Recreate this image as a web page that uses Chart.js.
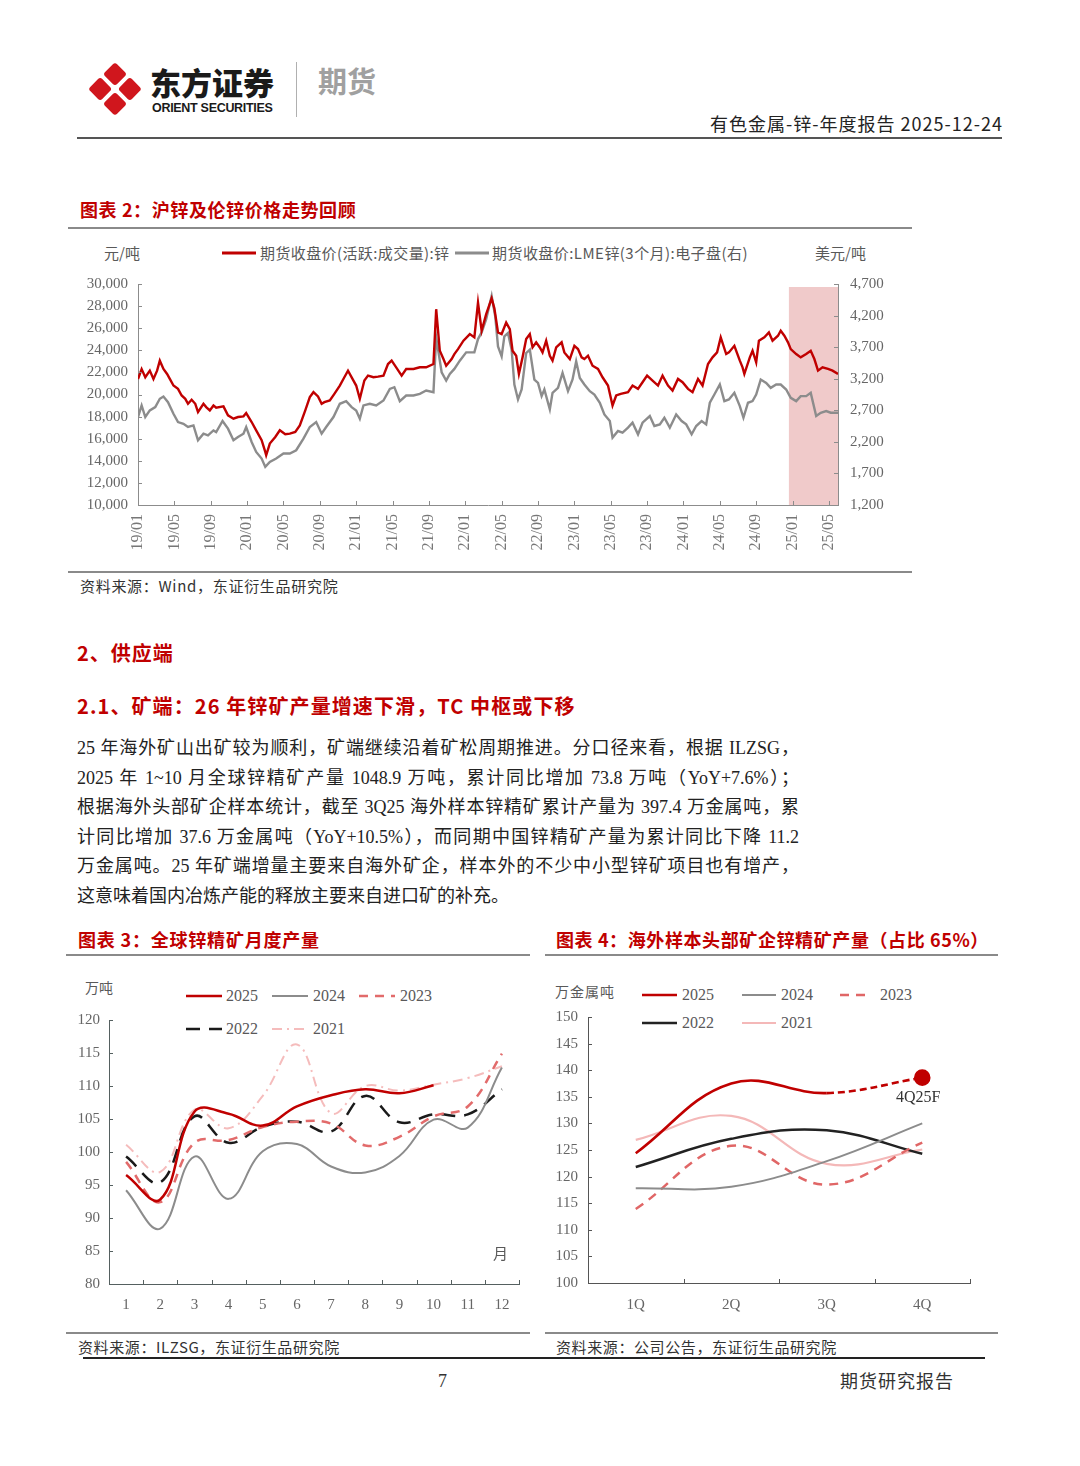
<!DOCTYPE html>
<html lang="zh-CN">
<head>
<meta charset="utf-8">
<title>有色金属-锌-年度报告</title>
<script src="https://cdn.jsdelivr.net/npm/chart.js@4.4.1/dist/chart.umd.min.js"></script>
<style>
  html, body { margin: 0; padding: 0; background: #fff; }
  #page { position: relative; width: 1080px; height: 1466px; overflow: hidden;
          font-family: "Liberation Serif", "Noto Sans CJK SC", serif; color: #222; }
  .t { position: absolute; white-space: nowrap; line-height: 1; }
  .hr { position: absolute; height: 0; border-top: 2px solid #8a8a8a; }
  .red { color: #c00000; }
  .lgt { position: absolute; white-space: nowrap; line-height: 1; color: #595959; }
  .ls { position: absolute; }
  canvas { position: absolute; }
  .para { position: absolute; left: 77px; top: 734px; width: 722px; font-size: 18px; }
  .para div { height: 29.6px; line-height: 29.6px; text-align: justify; text-align-last: justify; white-space: nowrap; }
  .para div.last { text-align-last: left; }
</style>
</head>
<body>
<div id="page">

  <!-- 页眉 -->
  <svg style="position:absolute;left:88px;top:61px" width="54" height="56" viewBox="0 0 54 56">
    <g transform="translate(27,28) rotate(45)" fill="#d0161d">
      <rect x="-19" y="-19" width="17" height="17" rx="3"/>
      <rect x="2" y="-19" width="17" height="17" rx="3"/>
      <rect x="-19" y="2" width="17" height="17" rx="3"/>
      <rect x="2" y="2" width="17" height="17" rx="3"/>
    </g>
  </svg>
  <div class="t" style="left:150px;top:66px;font-family:'Noto Sans CJK SC';font-weight:900;font-size:31px;color:#1a1a1a;">东方证券</div>
  <div class="t" style="left:152px;top:102px;font-family:'Liberation Sans';font-weight:bold;font-size:12.5px;color:#1a1a1a;letter-spacing:-0.3px;">ORIENT SECURITIES</div>
  <div style="position:absolute;left:296px;top:62px;width:1px;height:55px;background:#b0b0b0;"></div>
  <div class="t" style="left:318px;top:66px;font-family:'Noto Sans CJK SC';font-weight:bold;font-size:29px;color:#a0a0a0;">期货</div>
  <div class="t" style="right:77px;top:114px;font-family:'Noto Sans CJK SC';font-size:18px;color:#222;letter-spacing:1px;">有色金属-锌-年度报告 2025-12-24</div>
  <div class="hr" style="left:77px;top:137px;width:925px;border-top-color:#555;"></div>

  <!-- 图表 2 -->
  <div class="t red" style="left:80px;top:200px;font-family:'Noto Sans CJK SC';font-weight:bold;font-size:18px;letter-spacing:0.6px;">图表 2：沪锌及伦锌价格走势回顾</div>
  <div class="hr" style="left:68px;top:227px;width:844px;"></div>
  <div class="lgt" style="left:104px;top:245px;font-family:'Noto Sans CJK SC';font-size:15px;">元/吨</div>
  <svg class="ls" style="left:222px;top:248px" width="34" height="10"><line x1="0" y1="5" x2="34" y2="5" stroke="#c00000" stroke-width="3"/></svg>
  <div class="lgt" style="left:260px;top:245px;font-family:'Noto Sans CJK SC';font-size:15px;letter-spacing:0.4px;">期货收盘价(活跃:成交量):锌</div>
  <svg class="ls" style="left:455px;top:248px" width="34" height="10"><line x1="0" y1="5" x2="34" y2="5" stroke="#8c8c8c" stroke-width="3"/></svg>
  <div class="lgt" style="left:492px;top:245px;font-family:'Noto Sans CJK SC';font-size:15px;letter-spacing:0.45px;">期货收盘价:LME锌(3个月):电子盘(右)</div>
  <div class="lgt" style="left:815px;top:245px;font-family:'Noto Sans CJK SC';font-size:15px;">美元/吨</div>
  <canvas id="chartPrice" width="844" height="307" style="left:68px;top:263px;"></canvas>
  <div class="hr" style="left:68px;top:571px;width:844px;"></div>
  <div class="t" style="left:80px;top:578px;font-family:'Noto Sans CJK SC';font-size:15px;color:#333;letter-spacing:0.7px;">资料来源：Wind，东证衍生品研究院</div>

  <!-- 正文 -->
  <div class="t red" style="left:77px;top:643px;font-family:'Noto Sans CJK SC';font-weight:bold;font-size:20px;letter-spacing:1px;">2、供应端</div>
  <div class="t red" style="left:77px;top:696px;font-family:'Noto Sans CJK SC';font-weight:bold;font-size:20px;letter-spacing:1.1px;">2.1、矿端：26 年锌矿产量增速下滑，TC 中枢或下移</div>
  <div class="para">
    <div>25 年海外矿山出矿较为顺利，矿端继续沿着矿松周期推进。分口径来看，根据 ILZSG，</div>
    <div>2025 年 1~10 月全球锌精矿产量 1048.9 万吨，累计同比增加 73.8 万吨（YoY+7.6%）；</div>
    <div>根据海外头部矿企样本统计，截至 3Q25 海外样本锌精矿累计产量为 397.4 万金属吨，累</div>
    <div>计同比增加 37.6 万金属吨（YoY+10.5%），而同期中国锌精矿产量为累计同比下降 11.2</div>
    <div>万金属吨。25 年矿端增量主要来自海外矿企，样本外的不少中小型锌矿项目也有增产，</div>
    <div class="last">这意味着国内冶炼产能的释放主要来自进口矿的补充。</div>
  </div>

  <!-- 图表 3 -->
  <div class="t red" style="left:78px;top:930px;font-family:'Noto Sans CJK SC';font-weight:bold;font-size:18px;letter-spacing:0.8px;">图表 3：全球锌精矿月度产量</div>
  <div class="hr" style="left:66px;top:954px;width:464px;"></div>
  <div class="lgt" style="left:85px;top:980px;font-family:'Noto Sans CJK SC';font-size:14px;">万吨</div>
  <svg class="ls" style="left:186px;top:991px" width="36" height="10"><line x1="0" y1="5" x2="36" y2="5" stroke="#c00000" stroke-width="2.5"/></svg>
  <div class="lgt" style="left:226px;top:988px;font-size:16px;">2025</div>
  <svg class="ls" style="left:272px;top:991px" width="36" height="10"><line x1="0" y1="5" x2="36" y2="5" stroke="#8c8c8c" stroke-width="2"/></svg>
  <div class="lgt" style="left:313px;top:988px;font-size:16px;">2024</div>
  <svg class="ls" style="left:359px;top:991px" width="36" height="10"><line x1="0" y1="5" x2="36" y2="5" stroke="#e26b6b" stroke-width="2.5" stroke-dasharray="9 7"/></svg>
  <div class="lgt" style="left:400px;top:988px;font-size:16px;">2023</div>
  <svg class="ls" style="left:186px;top:1024px" width="36" height="10"><line x1="0" y1="5" x2="36" y2="5" stroke="#1a1a1a" stroke-width="2.5" stroke-dasharray="14 9"/></svg>
  <div class="lgt" style="left:226px;top:1021px;font-size:16px;">2022</div>
  <svg class="ls" style="left:272px;top:1024px" width="36" height="10"><line x1="0" y1="5" x2="36" y2="5" stroke="#f5bcbc" stroke-width="2" stroke-dasharray="10 5 2 5"/></svg>
  <div class="lgt" style="left:313px;top:1021px;font-size:16px;">2021</div>
  <canvas id="chartMonthly" width="464" height="340" style="left:66px;top:975px;"></canvas>
  <div class="lgt" style="left:493px;top:1245px;font-family:'Noto Sans CJK SC';font-size:15px;">月</div>
  <div class="hr" style="left:66px;top:1332px;width:464px;"></div>
  <div class="t" style="left:78px;top:1339px;font-family:'Noto Sans CJK SC';font-size:15px;color:#333;letter-spacing:0.6px;">资料来源：ILZSG，东证衍生品研究院</div>

  <!-- 图表 4 -->
  <div class="t red" style="left:556px;top:930px;font-family:'Noto Sans CJK SC';font-weight:bold;font-size:18px;letter-spacing:0.6px;">图表 4：海外样本头部矿企锌精矿产量（占比 65%）</div>
  <div class="hr" style="left:545px;top:954px;width:453px;"></div>
  <div class="lgt" style="left:555px;top:984px;font-family:'Noto Sans CJK SC';font-size:14px;letter-spacing:1px;">万金属吨</div>
  <svg class="ls" style="left:642px;top:990px" width="35" height="10"><line x1="0" y1="5" x2="35" y2="5" stroke="#c00000" stroke-width="2.5"/></svg>
  <div class="lgt" style="left:682px;top:987px;font-size:16px;">2025</div>
  <svg class="ls" style="left:742px;top:990px" width="34" height="10"><line x1="0" y1="5" x2="34" y2="5" stroke="#8c8c8c" stroke-width="2"/></svg>
  <div class="lgt" style="left:781px;top:987px;font-size:16px;">2024</div>
  <svg class="ls" style="left:840px;top:990px" width="29" height="10"><line x1="0" y1="5" x2="29" y2="5" stroke="#e06666" stroke-width="2.5" stroke-dasharray="9 7"/></svg>
  <div class="lgt" style="left:880px;top:987px;font-size:16px;">2023</div>
  <svg class="ls" style="left:642px;top:1018px" width="35" height="10"><line x1="0" y1="5" x2="35" y2="5" stroke="#222" stroke-width="2.5"/></svg>
  <div class="lgt" style="left:682px;top:1015px;font-size:16px;">2022</div>
  <svg class="ls" style="left:742px;top:1018px" width="34" height="10"><line x1="0" y1="5" x2="34" y2="5" stroke="#f4b8b8" stroke-width="2.2"/></svg>
  <div class="lgt" style="left:781px;top:1015px;font-size:16px;">2021</div>
  <canvas id="chartMines" width="453" height="340" style="left:545px;top:975px;"></canvas>
  <div class="hr" style="left:545px;top:1332px;width:453px;"></div>
  <div class="t" style="left:556px;top:1339px;font-family:'Noto Sans CJK SC';font-size:15px;color:#333;letter-spacing:0.6px;">资料来源：公司公告，东证衍生品研究院</div>

  <!-- 页脚 -->
  <div class="hr" style="left:83px;top:1357px;width:902px;border-top-color:#222;"></div>
  <div class="t" style="left:438px;top:1372px;font-size:18px;color:#333;">7</div>
  <div class="t" style="left:840px;top:1371px;font-family:'Noto Sans CJK SC';font-size:18px;color:#333;letter-spacing:1px;">期货研究报告</div>
</div>

<script>
// ===============================
// 数据：图表 2（x 为自 2019/01 起的月份数）
// ===============================
const xTickLabels = ['19/01', '19/05', '19/09', '20/01', '20/05', '20/09', '21/01', '21/05', '21/09', '22/01',
  '22/05', '22/09', '23/01', '23/05', '23/09', '24/01', '24/05', '24/09', '25/01', '25/05'];

const shfeMonths = [0.0, 0.4, 0.8, 1.3, 1.7, 2.1, 2.4, 2.8, 3.2, 3.5, 3.9, 4.4, 4.8, 5.2, 5.5, 5.9, 6.3, 6.6, 7.2, 7.5,
  7.9, 8.3, 8.6, 9.4, 9.9, 10.5, 11.0, 11.6, 11.9, 12.5, 13.0, 13.6, 14.0, 14.1, 14.5, 15.1, 15.6, 16.2, 16.7, 17.3,
  17.8, 18.4, 18.9, 19.3, 19.8, 20.2, 20.5, 21.1, 21.6, 22.2, 22.7, 23.1, 23.7, 24.0, 24.4, 24.9, 25.3, 25.9, 26.4, 27.0,
  27.5, 27.9, 28.4, 29.0, 29.5, 30.3, 31.0, 31.7, 32.5, 32.8, 33.2, 33.6, 33.9, 34.5, 34.8, 35.2, 35.8, 36.5, 37.0, 37.4,
  37.8, 38.3, 38.9, 39.2, 39.6, 40.0, 40.5, 40.9, 41.2, 41.6, 41.9, 42.3, 42.7, 43.1, 43.4, 43.8, 44.2, 44.5, 44.9, 45.3,
  45.6, 46.0, 46.6, 46.9, 47.5, 48.0, 48.4, 48.8, 49.1, 49.5, 50.0, 50.6, 51.1, 51.7, 52.2, 52.6, 53.1, 53.9, 54.4, 55.0,
  55.5, 56.0, 56.6, 57.2, 57.7, 58.3, 58.8, 59.4, 59.9, 60.5, 61.0, 61.6, 62.1, 62.7, 63.2, 63.7, 64.1, 64.7, 65.0, 65.6,
  66.2, 66.5, 66.7, 67.3, 67.6, 68.0, 68.3, 68.9, 69.4, 69.8, 70.4, 70.7, 71.1, 71.5, 71.8, 72.4, 72.9, 73.5, 74.0, 74.4,
  74.8, 75.3, 75.9, 76.4, 77.0];
const shfePrice = [21400, 22300, 21560, 22160, 21410, 22160, 23060, 22310, 21860, 21410, 20810, 20510, 19910, 19610, 19160, 19520, 19160, 18410, 19160, 18860,
  18560, 19010, 18800, 18920, 18110, 17810, 17960, 18020, 18320, 17510, 16760, 15860, 14800, 14500, 15560, 16160, 16760, 16400, 16460, 16610,
  17210, 18560, 19760, 20210, 19820, 19160, 19310, 19460, 20060, 20810, 21560, 22160, 21260, 20810, 19610, 21260, 21710, 21560, 21620, 21710,
  22760, 23060, 22460, 21710, 22310, 22310, 22460, 22460, 22760, 27720, 23960, 23210, 22610, 23210, 23660, 24110, 24870, 25470, 25170, 28320,
  25770, 27270, 28700, 27800, 25620, 25470, 26510, 25920, 23960, 23510, 21860, 23360, 25020, 25470, 24260, 24720, 24260, 23810, 24870, 23510,
  23060, 24260, 24720, 23810, 23210, 24410, 24110, 23360, 23210, 23510, 22610, 22310, 21560, 20810, 19010, 19910, 20060, 20210, 20810, 20510,
  21110, 21710, 21260, 20810, 21710, 20810, 20360, 21410, 21110, 20510, 20210, 21410, 20810, 22760, 23360, 23810, 25170, 23660, 23810, 24410,
  23060, 22460, 21860, 23360, 23960, 22910, 24870, 25170, 25620, 24870, 25320, 25770, 25320, 24720, 24110, 23660, 23360, 23660, 23960, 23210,
  22160, 22460, 22310, 22160, 21860];

const lmeMonths = [0.0, 0.4, 0.8, 1.3, 1.9, 2.4, 2.8, 3.3, 3.9, 4.4, 5.0, 5.5, 6.1, 6.6, 7.2, 7.7, 8.3, 8.6, 9.3, 9.9,
  10.5, 11.0, 11.6, 11.9, 12.5, 13.0, 13.6, 14.0, 14.5, 15.2, 16.0, 16.7, 17.4, 18.2, 18.9, 19.6, 20.2, 20.7, 21.5, 22.2,
  22.9, 23.5, 24.0, 24.4, 24.8, 25.5, 26.2, 27.0, 27.7, 28.2, 28.8, 29.5, 30.3, 31.0, 31.7, 32.5, 32.8, 33.4, 33.9, 34.3,
  34.8, 35.4, 36.1, 37.0, 37.4, 37.8, 38.3, 38.9, 39.3, 39.6, 40.0, 40.3, 40.7, 41.1, 41.4, 41.8, 42.2, 42.7, 43.1, 43.6,
  44.0, 44.4, 44.7, 45.3, 45.6, 46.2, 46.7, 47.3, 47.8, 48.2, 48.6, 49.1, 49.7, 50.2, 50.8, 51.3, 51.9, 52.2, 52.8, 53.3,
  53.9, 54.4, 55.0, 55.5, 56.3, 56.8, 57.4, 57.9, 58.5, 59.2, 59.8, 60.3, 60.9, 61.4, 62.0, 62.5, 62.9, 63.4, 64.0, 64.5,
  65.0, 65.6, 66.2, 66.6, 67.1, 67.6, 68.0, 68.5, 69.1, 69.6, 70.2, 70.7, 71.3, 71.8, 72.4, 72.9, 73.5, 74.0, 74.6, 75.1,
  75.7, 76.2, 77.0];
const lmePrice = [2593, 2777, 2593, 2698, 2750, 2882, 2918, 2829, 2645, 2514, 2487, 2435, 2461, 2225, 2330, 2304, 2382, 2356, 2530, 2409,
  2225, 2277, 2330, 2435, 2199, 2041, 1936, 1804, 1883, 1936, 2015, 2015, 2067, 2251, 2435, 2514, 2330, 2435, 2593, 2803,
  2845, 2750, 2698, 2566, 2777, 2803, 2777, 2855, 3039, 3066, 2845, 2934, 2934, 2960, 3013, 2987, 3854, 3302, 3171, 3276,
  3355, 3486, 3617, 3617, 3828, 3933, 4143, 4511, 4185, 3712, 3554, 3870, 3922, 3660, 3108, 2871, 3029, 3607, 3660, 3187,
  3134, 2924, 3029, 2714, 2976, 3055, 3292, 3003, 3187, 3476, 3213, 3108, 3003, 2950, 2819, 2635, 2530, 2267, 2372, 2346,
  2425, 2503, 2319, 2503, 2609, 2451, 2477, 2582, 2425, 2635, 2530, 2477, 2319, 2451, 2530, 2477, 2819, 2950, 3108, 2845,
  2871, 2976, 2766, 2582, 2819, 2845, 2950, 3187, 3134, 3055, 3108, 3108, 3029, 2898, 2845, 2924, 2924, 2976, 2609, 2661,
  2687, 2661, 2661];

// 阴影区间（月份）
const shadeFrom = 71.6;
const shadeTo = 77;

// ===============================
// 数据：图表 3
// ===============================
const months = ['1', '2', '3', '4', '5', '6', '7', '8', '9', '10', '11', '12'];
const prod2025 = [96.5, 92.8, 106.1, 105.8, 104.0, 106.9, 108.6, 109.5, 108.9, 110.1];
const prod2024 = [94.2, 88.4, 99.3, 92.9, 100.1, 101.2, 97.8, 96.9, 99.4, 104.9, 103.7, 112.8];
const prod2023 = [98.5, 92.4, 101.4, 101.8, 103.8, 104.6, 104.3, 101.0, 102.3, 105.4, 106.9, 114.9];
const prod2022 = [99.3, 95.4, 105.4, 101.4, 103.8, 104.6, 103.1, 108.5, 104.5, 105.7, 105.7, 109.5];
const prod2021 = [101.1, 97.0, 106.4, 103.6, 108.5, 116.3, 105.9, 110.0, 109.3, 110.2, 111.2, 113.0];

// ===============================
// 数据：图表 4
// ===============================
const quarters = ['1Q', '2Q', '3Q', '4Q'];
const mine2025 = [124.4, 137.5, 135.7, 138.6];
const mine2024 = [117.8, 118.1, 122.9, 130.0];
const mine2023 = [113.9, 125.8, 118.5, 126.4];
const mine2022 = [121.8, 127.1, 128.7, 124.3];
const mine2021 = [126.9, 131.4, 122.4, 125.1];
const forecastLabel = '4Q25F';

// ===============================
// Plugins
// ===============================
// 刻度线朝内
const inwardTicks = {
  id: 'inwardTicks',
  afterDatasetsDraw(chart, args, opts) {
    if (!opts.length) return;
    const { ctx, chartArea: a } = chart;
    ctx.save();
    ctx.strokeStyle = opts.color;
    ctx.lineWidth = 1;
    ctx.beginPath();
    Object.values(chart.scales).forEach(s => {
      let px = s.ticks.map((t, i) => s.getPixelForTick(i));
      if (s.options.grid.offset && px.length > 1) {
        const half = (px[1] - px[0]) / 2;
        px = px.map(p => p - half).concat([px[px.length - 1] + half]);
      }
      px.forEach(p => {
        const q = Math.round(p) + 0.5;
        if (s.isHorizontal()) {
          ctx.moveTo(q, a.bottom);
          ctx.lineTo(q, a.bottom - opts.length);
        } else if (s.position === 'left') {
          ctx.moveTo(a.left, q);
          ctx.lineTo(a.left + opts.length, q);
        } else {
          ctx.moveTo(a.right, q);
          ctx.lineTo(a.right - opts.length, q);
        }
      });
    });
    ctx.stroke();
    ctx.restore();
  }
};

// 阴影
const shadeBand = {
  id: 'shadeBand',
  beforeDatasetsDraw(chart, args, opts) {
    if (opts.from == null) return;
    const { ctx, chartArea: a } = chart;
    const x = chart.scales.x;
    const x0 = x.getPixelForValue(opts.from);
    const x1 = x.getPixelForValue(opts.to);
    ctx.save();
    ctx.fillStyle = opts.color;
    ctx.fillRect(x0, a.top + 3, x1 - x0, a.bottom - a.top - 3);
    ctx.restore();
  }
};

// 预测点标注
const pointNote = {
  id: 'pointNote',
  afterDatasetsDraw(chart, args, opts) {
    if (!opts.text) return;
    const pt = chart.getDatasetMeta(opts.dataset).data[opts.index];
    if (!pt) return;
    const ctx = chart.ctx;
    ctx.save();
    ctx.font = '16px "Liberation Serif"';
    ctx.fillStyle = '#333';
    ctx.textAlign = 'center';
    ctx.textBaseline = 'middle';
    ctx.fillText(opts.text, pt.x - 4, pt.y + 20);
    ctx.restore();
  }
};

Chart.register(inwardTicks, shadeBand, pointNote);

const tickFont = { family: 'Liberation Serif', size: 15 };
const tickColor = '#666';

// ===============================
// 图表 2
// ===============================
new Chart(document.getElementById('chartPrice'), {
  type: 'line',
  data: {
    datasets: [{
      label: '期货收盘价(活跃:成交量):锌',
      data: shfeMonths.map((m, i) => ({ x: m, y: shfePrice[i] })),
      yAxisID: 'y',
      borderColor: '#c00000',
      borderWidth: 2.4,
      pointRadius: 0,
      tension: 0
    }, {
      label: '期货收盘价:LME锌(3个月):电子盘(右)',
      data: lmeMonths.map((m, i) => ({ x: m, y: lmePrice[i] })),
      yAxisID: 'y1',
      borderColor: '#8c8c8c',
      borderWidth: 2.4,
      pointRadius: 0,
      tension: 0
    }]
  },
  options: {
    responsive: false,
    animation: false,
    layout: { padding: { top: 6 } },
    plugins: {
      legend: { display: false },
      tooltip: { enabled: false },
      shadeBand: { from: shadeFrom, to: shadeTo, color: 'rgba(226, 150, 150, 0.5)' },
      inwardTicks: { length: 4, color: '#8c8c8c' }
    },
    scales: {
      x: {
        type: 'linear',
        min: 0,
        max: 77,
        afterBuildTicks: s => { s.ticks = xTickLabels.map((l, i) => ({ value: i * 4 })); },
        afterFit: s => { s.height = 65; },
        grid: { display: false, drawTicks: false },
        border: { color: '#8c8c8c' },
        ticks: {
          callback: v => xTickLabels[v / 4],
          autoSkip: false,
          minRotation: 90,
          maxRotation: 90,
          padding: 9,
          color: '#777',
          font: { family: 'Liberation Serif', size: 16 }
        }
      },
      y: {
        position: 'left',
        min: 10000,
        max: 30000,
        afterFit: s => { s.width = 70; },
        grid: { display: false, drawTicks: false },
        border: { color: '#8c8c8c' },
        ticks: { stepSize: 2000, padding: 10, color: tickColor, font: tickFont,
                 callback: v => v.toLocaleString('en-US') }
      },
      y1: {
        position: 'right',
        min: 1200,
        max: 4700,
        afterFit: s => { s.width = 74; },
        grid: { display: false, drawTicks: false },
        border: { color: '#8c8c8c' },
        ticks: { stepSize: 500, padding: 12, color: tickColor, font: tickFont,
                 callback: v => v.toLocaleString('en-US') }
      }
    }
  }
});

// ===============================
// 图表 3
// ===============================
const lineSet = (label, data, color, width, dash) => ({
  label, data,
  borderColor: color,
  borderWidth: width,
  borderDash: dash || [],
  pointRadius: 0,
  tension: 0.4,
  fill: false
});

new Chart(document.getElementById('chartMonthly'), {
  type: 'line',
  data: {
    labels: months,
    datasets: [
      lineSet('2025', prod2025, '#c00000', 2.5),
      lineSet('2024', prod2024, '#8c8c8c', 2),
      lineSet('2023', prod2023, '#e26b6b', 2.5, [9, 7]),
      lineSet('2022', prod2022, '#1a1a1a', 2.5, [14, 9]),
      lineSet('2021', prod2021, '#f5bcbc', 2, [10, 5, 2, 5])
    ]
  },
  options: {
    responsive: false,
    animation: false,
    layout: { padding: { top: 45, right: 11 } },
    plugins: {
      legend: { display: false },
      tooltip: { enabled: false },
      inwardTicks: { length: 4, color: '#556060' }
    },
    scales: {
      x: {
        type: 'category',
        offset: true,
        afterFit: s => { s.height = 31; },
        grid: { display: false, drawTicks: false, offset: true },
        border: { color: '#556060' },
        ticks: { padding: 12, color: tickColor, font: tickFont }
      },
      y: {
        min: 80,
        max: 120,
        afterFit: s => { s.width = 43; },
        grid: { display: false, drawTicks: false },
        border: { color: '#556060' },
        ticks: { stepSize: 5, padding: 9, color: tickColor, font: tickFont }
      }
    }
  }
});

// ===============================
// 图表 4
// ===============================
const set2025 = lineSet('2025', mine2025, '#c00000', 2.6);
set2025.segment = { borderDash: c => (c.p0DataIndex >= 2 ? [7, 4] : undefined) };
set2025.pointRadius = mine2025.map((v, i) => (i === mine2025.length - 1 ? 7 : 0));
set2025.pointBackgroundColor = '#c00000';
set2025.pointBorderColor = '#c00000';

new Chart(document.getElementById('chartMines'), {
  type: 'line',
  data: {
    labels: quarters,
    datasets: [
      set2025,
      lineSet('2024', mine2024, '#8c8c8c', 2),
      lineSet('2023', mine2023, '#e06666', 2.5, [9, 7]),
      lineSet('2022', mine2022, '#222', 2.5),
      lineSet('2021', mine2021, '#f4b8b8', 2.2)
    ]
  },
  options: {
    responsive: false,
    animation: false,
    layout: { padding: { top: 42, right: 28 } },
    plugins: {
      legend: { display: false },
      tooltip: { enabled: false },
      inwardTicks: { length: 4, color: '#555' },
      pointNote: { text: forecastLabel, dataset: 0, index: 3 }
    },
    scales: {
      x: {
        type: 'category',
        offset: true,
        afterFit: s => { s.height = 32; },
        grid: { display: false, drawTicks: false, offset: true },
        border: { color: '#555' },
        ticks: { padding: 13, color: tickColor, font: tickFont }
      },
      y: {
        min: 100,
        max: 150,
        afterFit: s => { s.width = 43; },
        grid: { display: false, drawTicks: false },
        border: { color: '#555' },
        ticks: { stepSize: 5, padding: 10, color: tickColor, font: tickFont }
      }
    }
  }
});
</script>
</body>
</html>
